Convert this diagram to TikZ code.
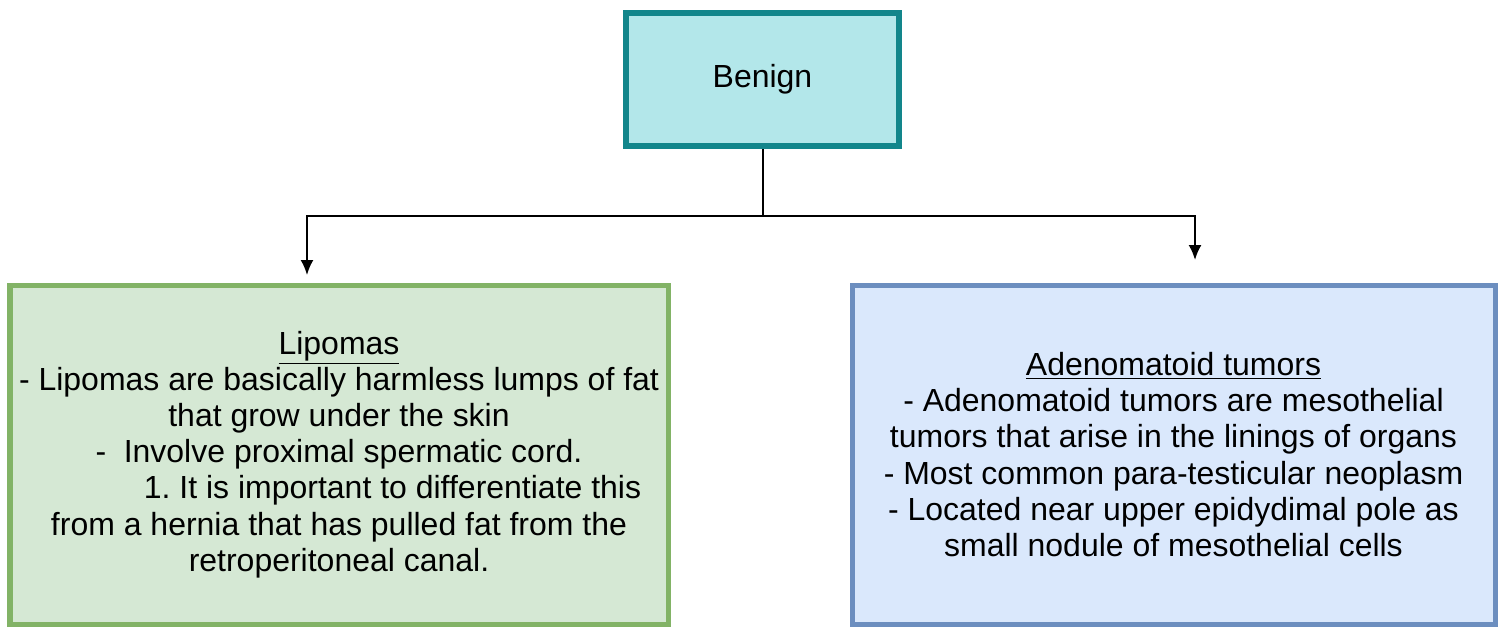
\documentclass[tikz,border=0pt]{standalone}
\usepackage{fontspec}
\setmainfont{Liberation Sans}
\usetikzlibrary{arrows.meta,positioning}
\frenchspacing
\definecolor{BTeal}{HTML}{12868B}
\definecolor{BTealFill}{HTML}{B3E7EA}
\definecolor{LGreen}{HTML}{82B366}
\definecolor{LGreenFill}{HTML}{D5E8D4}
\definecolor{ABlue}{HTML}{6C8EBF}
\definecolor{ABlueFill}{HTML}{DAE8FC}
\tikzset{
    block/.style = {draw, rectangle, align=center,
        font=\fontsize{18.2}{20.6}\selectfont},
    rootblock/.style = {block, draw=BTeal, fill=BTealFill, line width=0.13cm,
        minimum width=5.46cm, minimum height=2.66cm},
    leafblock/.style = {block, line width=0.1cm, minimum height=6.78cm},
    arrow/.style = {draw, line width=0.04cm, -{Latex[length=0.3cm,width=0.26cm]}}
}

\begin{document}
\begin{tikzpicture}
        \useasboundingbox (0,0) rectangle (30.08,-12.56);
        \node [rootblock] (benign) at (15.25,-1.59) {\raisebox{-2pt}{Benign}};
        \node [leafblock, draw=LGreen, fill=LGreenFill, minimum width=13.16cm] (lipomas) at (6.78,-9.09) {%
            \underline{Lipomas}\\
            - Lipomas are basically harmless lumps of fat\\
            that grow under the skin\\
            -\hspace{0.55em}Involve proximal spermatic cord.\\
            \hspace*{2.14cm}1. It is important to differentiate this\\
            from a hernia that has pulled fat from the\\
            retroperitoneal canal.};
        \node [leafblock, draw=ABlue, fill=ABlueFill, minimum width=12.86cm] (adeno) at (23.47,-9.09) {%
            \underline{Adenomatoid tumors}\\
            - Adenomatoid tumors are mesothelial\\
            tumors that arise in the linings of organs\\
            - Most common para-testicular neoplasm\\
            - Located near upper epidydimal pole as\\
            small nodule of mesothelial cells};
        % fork and the two arrow tips above the boxes
        \coordinate (fork) at (benign.south |- 0,-4.32);
        \coordinate (liptip) at (6.14,-5.5);
        \coordinate (adetip) at (23.9,-5.2);
        \draw [line width=0.04cm] (benign.south) -- (fork);
        \draw [arrow] (fork) -| (liptip);
        \draw [arrow] (fork) -| (adetip);
\end{tikzpicture}
\end{document}
